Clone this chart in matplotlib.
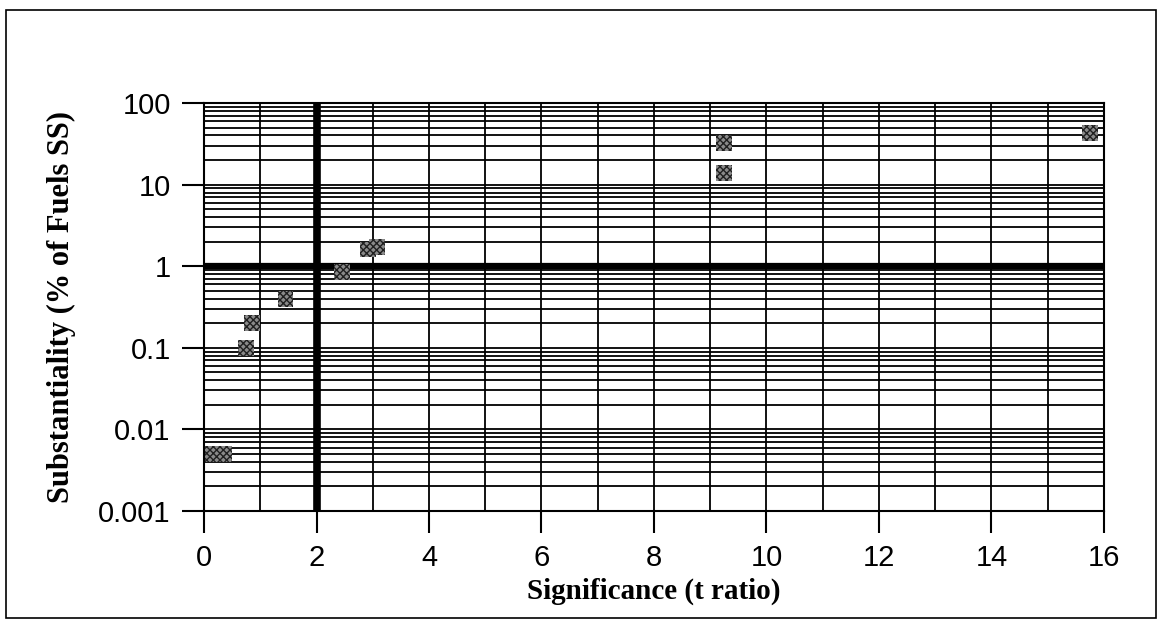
import numpy as np
import matplotlib.pyplot as plt
from matplotlib.ticker import FixedLocator, FixedFormatter, MultipleLocator
from matplotlib.patches import Rectangle

# values
t_ratio = [0.15, 0.25, 0.35, 0.75, 0.85, 1.45, 2.45, 2.92, 3.08, 9.25, 9.25, 15.75]
subst = [0.005, 0.005, 0.005, 0.1, 0.2, 0.4, 0.85, 1.6, 1.7, 32, 14, 43]

y_ticks = [0.001, 0.01, 0.1, 1, 10, 100]
y_labels = ["0.001", "0.01", "0.1", "1", "10", "100"]
x_ticks = [0, 2, 4, 6, 8, 10, 12, 14, 16]

fig = plt.figure(figsize=(11.63, 6.31), dpi=100)
ax = fig.add_axes([204/1163, 120/631, 900/1163, 408/631])

ax.set_yscale("log")
ax.set_xlim(0, 16)
ax.set_ylim(0.001, 100)

# grid: every unit on x, log minor lines on y
ax.xaxis.set_major_locator(FixedLocator(x_ticks))
ax.xaxis.set_minor_locator(MultipleLocator(1))
ax.yaxis.set_major_locator(FixedLocator(y_ticks))
ax.yaxis.set_major_formatter(FixedFormatter(y_labels))
minors = [m * 10.0**e for e in range(-3, 2) for m in range(2, 10)]
ax.yaxis.set_minor_locator(FixedLocator(minors))
ax.yaxis.set_minor_formatter(FixedFormatter([""] * len(minors)))

ax.grid(which="both", color="black", linewidth=1.3)
ax.set_axisbelow(True)

ax.axhline(1, color="black", linewidth=4.5, zorder=2)
ax.axvline(2, color="black", linewidth=5.5, zorder=2)

ax.scatter(t_ratio, subst, marker="s", s=130, facecolor="#8a8a8a",
           edgecolor="#202020", linewidth=0, hatch="xxxxx", zorder=3)

for sp in ax.spines.values():
    sp.set_linewidth(1.5)

ax.tick_params(which="major", length=16, width=1.5, labelsize=21, pad=8,
               direction="out")
ax.tick_params(which="minor", length=0)
for lab in ax.get_xticklabels() + ax.get_yticklabels():
    lab.set_family("Liberation Sans")

ax.set_xlabel("Significance (t ratio)", family="Liberation Serif",
              fontweight="bold", fontsize=21, labelpad=4)
ax.set_ylabel("Substantiality (% of Fuels SS)", family="Liberation Serif",
              fontweight="bold", fontsize=22, labelpad=16)

# outer frame
fig.patches.append(Rectangle((6/1163, 13/631), 1150/1163, 608/631,
                             transform=fig.transFigure, fill=False,
                             edgecolor="black", linewidth=1.2))

fig.savefig("out.png", dpi=100)
